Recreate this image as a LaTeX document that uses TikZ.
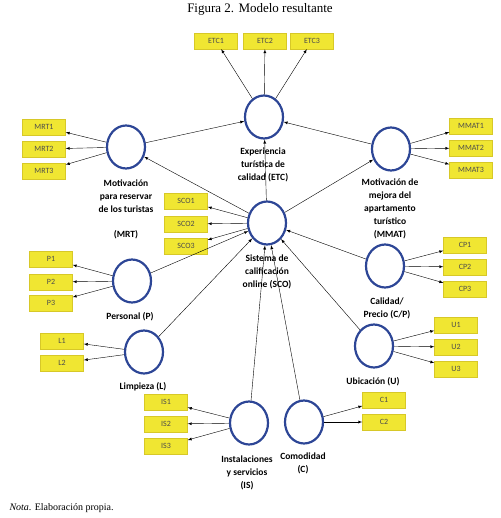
\documentclass[tikz,border=0pt]{standalone}
\usepackage{fontspec}
\setmainfont{Liberation Serif}
\newfontfamily\lblfont{Carlito}
\usepackage{tikz}
\usetikzlibrary{arrows,shapes,positioning}
\definecolor{latblue}{RGB}{45,70,150}
\definecolor{indyellow}{RGB}{240,230,50}
\definecolor{indedge}{RGB}{215,200,40}
\tikzset{
  latent/.style  = {draw=latblue, line width=2.2pt, ellipse, inner sep=0pt,
                    minimum width=38pt, minimum height=43pt},
  indic/.style   = {draw=indedge, thin, fill=indyellow, rectangle, inner sep=0pt,
                    minimum width=43pt, minimum height=16pt,
                    font=\lblfont\fontsize{8}{9}\selectfont, text=black!70},
  latlabel/.style = {align=center, inner sep=0pt,
                    font=\lblfont\bfseries\fontsize{9.5}{13}\selectfont}
}

\begin{document}
\begin{tikzpicture}[x=1pt, y=-1pt, >=latex, thin]
\useasboundingbox (0,0) rectangle (500,518);

% title and note
\node (title) at (260,9) {\fontsize{13}{15}\selectfont Figura 2. Modelo resultante};
\node[anchor=west] (nota) at (6,508) {\fontsize{10}{12}\selectfont\textit{Nota}. Elaboración propia.};

% latent variables
\node[latent] (etc)  at (264,117) {};
\node[latent] (sco)  at (267,223) {};
\node[latent] (mrt)  at (126,147) {};
\node[latent] (mmat) at (391,149) {};
\node[latent] (p)    at (132,281) {};
\node[latent] (l)    at (144,352) {};
\node[latent] (is)   at (249,423) {};
\node[latent] (c)    at (304,422) {};
\node[latent] (cp)   at (385,266) {};
\node[latent] (u)    at (374,346) {};

% names of the latent variables
\begin{scope}[every node/.style={latlabel}]
\node (etclab)  at (263,165) {Experiencia\\turística de\\calidad (ETC)};
\node (mrtlab)  at (126,196) {Motivación\\para reservar\\de los turistas};
\node (mrtab)   at (126,235) {(MRT)};
\node (mmatlab) at (390,208.5) {Motivación de\\mejora del\\apartamento\\turístico\\(MMAT)};
\node (scolab)  at (267,272) {Sistema de\\calificación\\online (SCO)};
\node (plab)    at (130,317) {Personal (P)};
\node (llab)    at (143,387) {Limpieza (L)};
\node (islab)   at (247,473) {Instalaciones\\y servicios\\(IS)};
\node (clab)    at (303,463.5) {Comodidad\\(C)};
\node (cplab)   at (387,308) {Calidad/\\Precio (C/P)};
\node (ulab)    at (373,382) {Ubicación (U)};
\end{scope}

% indicators
\begin{scope}[every node/.style={indic}]
\node (etc1) at (216,41) {ETC1};
\node (etc2) at (265,41) {ETC2};
\node (etc3) at (312,41) {ETC3};

\node (mrt1) at (44,127) {MRT1};
\node (mrt2) at (44,149) {MRT2};
\node (mrt3) at (44,171) {MRT3};

\node (mmat1) at (471,126) {MMAT1};
\node (mmat2) at (471,148) {MMAT2};
\node (mmat3) at (471,170) {MMAT3};

\node (sco1) at (186,201) {SCO1};
\node (sco2) at (186,224) {SCO2};
\node (sco3) at (186,246) {SCO3};

\node (p1) at (51,259) {P1};
\node (p2) at (51,282) {P2};
\node (p3) at (51,303) {P3};

\node (l1) at (62,341) {L1};
\node (l2) at (62,363) {L2};

\node (is1) at (166,402) {IS1};
\node (is2) at (166,424) {IS2};
\node (is3) at (166,446) {IS3};

\node (cp1) at (465,245) {CP1};
\node (cp2) at (465,267) {CP2};
\node (cp3) at (465,289) {CP3};

\node (u1) at (456,325) {U1};
\node (u2) at (456,347) {U2};
\node (u3) at (456,369) {U3};

\node (c1) at (384,400) {C1};
\node (c2) at (384,422) {C2};
\end{scope}

% latent variable to its indicators
\foreach \value in {1,2,3}
  \draw[->] (etc)->(etc\value);
\foreach \value in {1,2,3}
  \draw[->] (mrt)->(mrt\value);
\foreach \value in {1,2,3}
  \draw[->] (mmat)->(mmat\value);
\foreach \value in {1,2,3}
  \draw[->] (sco)->(sco\value);
\foreach \value in {1,2,3}
  \draw[->] (p)->(p\value);
\foreach \value in {1,2}
  \draw[->] (l)->(l\value);
\foreach \value in {1,2,3}
  \draw[->] (is)->(is\value);
\foreach \value in {1,2,3}
  \draw[->] (cp)->(cp\value);
\foreach \value in {1,2,3}
  \draw[->] (u)->(u\value);
\foreach \value in {1,2}
  \draw[->] (c)->(c\value);

% structural model
\draw[->] (mrt)->(etc);
\draw[->] (mmat)->(etc);
\draw[->] (sco)->(etc);
\draw[->] (sco)->(mrt);
\draw[->] (sco)->(mmat);

\foreach \src in {p,l,is,c,u,cp}
  \draw[->] (\src)->(sco);

\end{tikzpicture}
\end{document}
